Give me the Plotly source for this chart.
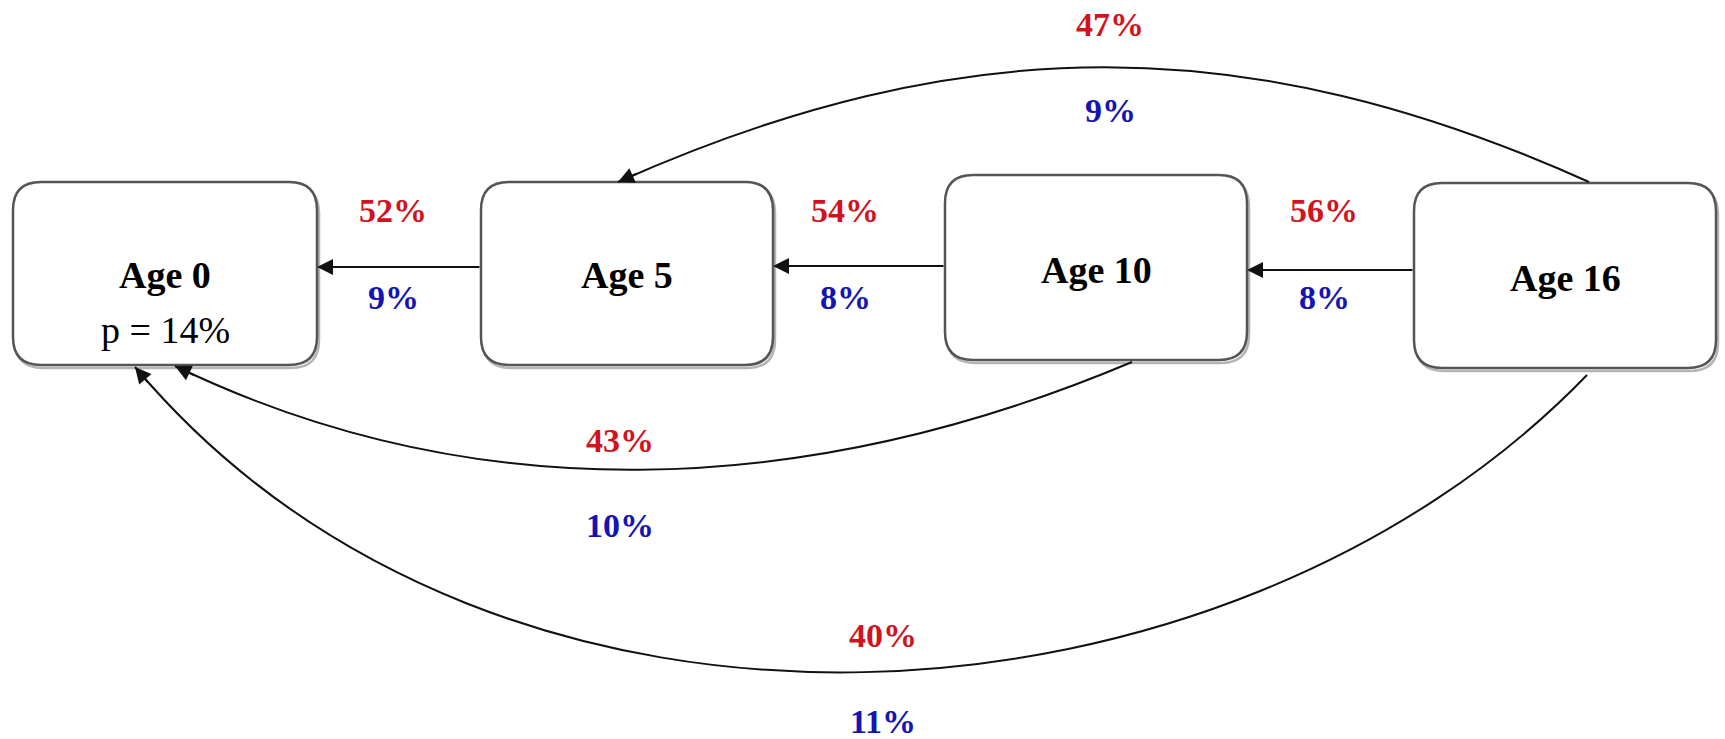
import math
import plotly.graph_objects as go

# ---------------- data ----------------
node_names = ["Age 0", "Age 5", "Age 10", "Age 16"]
node_sublabels = ["p = 14%", "", "", ""]

edge_source = ["Age 5", "Age 10", "Age 16", "Age 16", "Age 10", "Age 16"]
edge_target = ["Age 0", "Age 5", "Age 10", "Age 5", "Age 0", "Age 0"]
edge_red = [52, 54, 56, 47, 43, 40]
edge_blue = [9, 8, 8, 9, 10, 11]

# ---------------- layout geometry (pixels, y downwards) ----------------
W, H = 1725, 739
BOX = {
    "Age 0": (13, 182, 317, 365),
    "Age 5": (481, 182, 773, 365),
    "Age 10": (945, 175, 1247, 360),
    "Age 16": (1414, 183, 1716, 368),
}
NAME_Y = {"Age 0": 275, "Age 5": 275, "Age 10": 270, "Age 16": 278}
SUB_Y = 330
RADIUS = 28

# route for each edge: straight (2 points) or cubic Bezier (4 points)
ROUTES = [
    [(481, 267), (317, 267)],
    [(945, 266), (773, 266)],
    [(1414, 270), (1247, 270)],
    [(1589, 182), (1249, 29), (962, 29), (618, 182)],
    [(1132, 362), (800, 502), (470, 508), (175, 366)],
    [(1587, 375), (1230, 745), (500, 800), (135, 367)],
]
RED_POS = [(393, 210), (845, 210), (1324, 210), (1110, 24), (620, 440), (883, 635)]
BLUE_POS = [(393, 297), (845, 297), (1324, 297), (1110, 110), (620, 525), (883, 721)]

RED = "#d0141e"
BLUE = "#1414b4"
LINE = "#111111"
SERIF = "Liberation Serif"

fig = go.Figure()
fig.add_trace(go.Scatter(x=[0, W], y=[0, H], mode="markers",
                         marker=dict(opacity=0), hoverinfo="skip", showlegend=False))


def rounded_rect(x0, y0, x1, y1, r):
    return (f"M {x0 + r},{y0} L {x1 - r},{y0} Q {x1},{y0} {x1},{y0 + r} "
            f"L {x1},{y1 - r} Q {x1},{y1} {x1 - r},{y1} "
            f"L {x0 + r},{y1} Q {x0},{y1} {x0},{y1 - r} "
            f"L {x0},{y0 + r} Q {x0},{y0} {x0 + r},{y0} Z")


shapes = []
annotations = []

# nodes
for name, sub in zip(node_names, node_sublabels):
    x0, y0, x1, y1 = BOX[name]
    shapes.append(dict(type="path", path=rounded_rect(x0 + 2, y0 + 3, x1 + 2, y1 + 3, RADIUS),
                       line=dict(color="rgba(120,120,120,0.55)", width=2.5),
                       fillcolor="rgba(0,0,0,0)", xref="x", yref="y", layer="below"))
    shapes.append(dict(type="path", path=rounded_rect(x0, y0, x1, y1, RADIUS),
                       line=dict(color="#555555", width=2.5),
                       fillcolor="white", xref="x", yref="y", layer="below"))
    cx = (x0 + x1) / 2
    annotations.append(dict(x=cx, y=NAME_Y[name], text=name, showarrow=False,
                            xref="x", yref="y", xanchor="center", yanchor="middle",
                            font=dict(family=SERIF, size=38, color="black", weight="bold")))
    if sub:
        annotations.append(dict(x=cx, y=SUB_Y, text=sub, showarrow=False,
                                xref="x", yref="y", xanchor="center", yanchor="middle",
                                font=dict(family=SERIF, size=38, color="black")))

# edges
ARROW_LEN = 22
for i, route in enumerate(ROUTES):
    if len(route) == 2:
        (tx, ty), (hx, hy) = route
        annotations.append(dict(x=hx, y=hy, ax=tx, ay=ty, xref="x", yref="y",
                                axref="x", ayref="y", text="", showarrow=True,
                                arrowhead=2, arrowsize=1.6, arrowwidth=2,
                                arrowcolor=LINE, standoff=0))
    else:
        p0, p1, p2, p3 = route
        path = (f"M {p0[0]},{p0[1]} C {p1[0]},{p1[1]} {p2[0]},{p2[1]} {p3[0]},{p3[1]}")
        shapes.append(dict(type="path", path=path, line=dict(color=LINE, width=2),
                           xref="x", yref="y", layer="above"))
        dx, dy = p3[0] - p2[0], p3[1] - p2[1]
        n = math.hypot(dx, dy)
        tx, ty = p3[0] - dx / n * ARROW_LEN, p3[1] - dy / n * ARROW_LEN
        annotations.append(dict(x=p3[0], y=p3[1], ax=tx, ay=ty, xref="x", yref="y",
                                axref="x", ayref="y", text="", showarrow=True,
                                arrowhead=2, arrowsize=1.6, arrowwidth=2,
                                arrowcolor=LINE, standoff=0))
    rx, ry = RED_POS[i]
    bx, by = BLUE_POS[i]
    annotations.append(dict(x=rx, y=ry, text=f"{edge_red[i]}%", showarrow=False,
                            xref="x", yref="y", xanchor="center", yanchor="middle",
                            font=dict(family=SERIF, size=34, color=RED, weight="bold")))
    annotations.append(dict(x=bx, y=by, text=f"{edge_blue[i]}%", showarrow=False,
                            xref="x", yref="y", xanchor="center", yanchor="middle",
                            font=dict(family=SERIF, size=34, color=BLUE, weight="bold")))

fig.update_layout(
    width=W, height=H,
    margin=dict(l=0, r=0, t=0, b=0),
    paper_bgcolor="white", plot_bgcolor="white",
    xaxis=dict(range=[0, W], visible=False, fixedrange=True),
    yaxis=dict(range=[H, 0], visible=False, fixedrange=True),
    shapes=shapes, annotations=annotations, showlegend=False,
)

fig.write_html("out.html", config={"displayModeBar": False},
               post_script="document.body.style.margin='0';document.body.style.overflow='hidden';")
